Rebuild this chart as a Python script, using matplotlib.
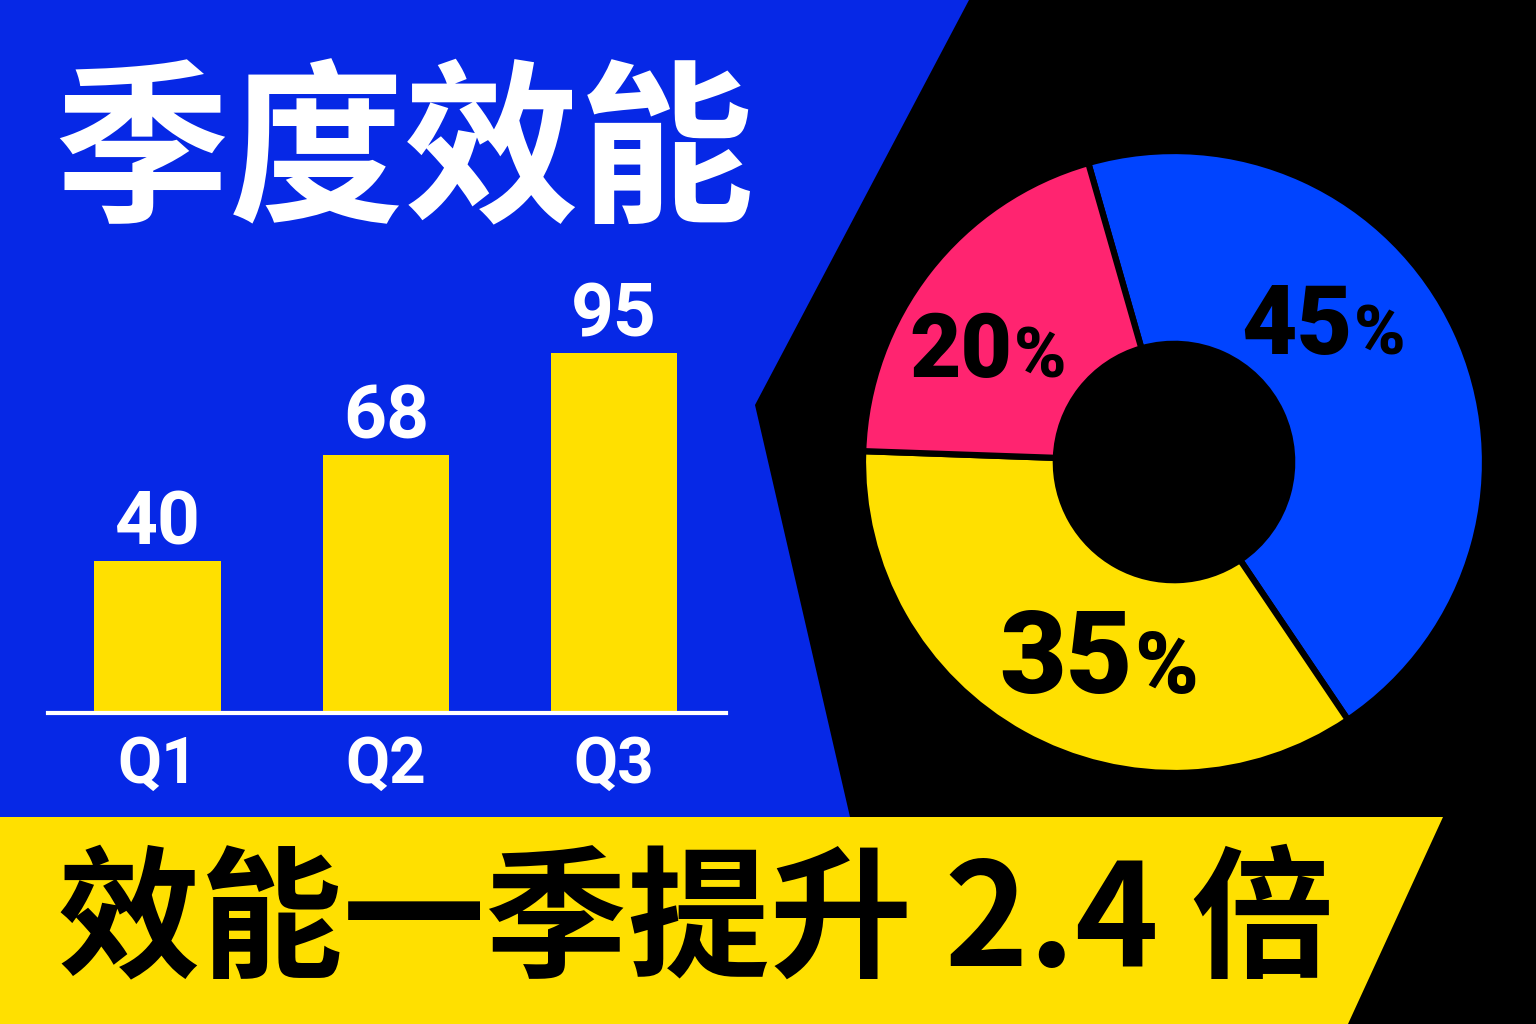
import matplotlib
matplotlib.use('Agg')
import matplotlib.pyplot as plt
from matplotlib.patches import Polygon

plt.rcParams['font.family'] = ['Noto Sans CJK SC', 'DejaVu Sans']

# data
quarters = ['Q1', 'Q2', 'Q3']
scores = [40, 68, 95]
share_labels = ['blue', 'yellow', 'red']
shares = [45, 35, 20]
title = '季度效能'
headline = '效能一季提升 2.4 倍'

# colours
bg_blue = '#0628E6'
yellow = '#FFE000'
pie_colors = ['#0044FF', '#FFE000', '#FF2470']

W, H = 1536, 1024
fig = plt.figure(figsize=(W / 100, H / 100), dpi=100)
fig.patch.set_facecolor(bg_blue)

# background shapes, pixel coords
bg = fig.add_axes([0, 0, 1, 1])
bg.set_xlim(0, W)
bg.set_ylim(H, 0)
bg.axis('off')
bg.add_patch(Polygon([(969, 0), (W, 0), (W, H), (850, H), (850, 817), (755, 405)],
                     closed=True, color='black', lw=0))
bg.add_patch(Polygon([(0, 817), (1443, 817), (1348, H), (0, H)],
                     closed=True, color=yellow, lw=0))

bg.text(54, 208, title, fontsize=126, color='white', fontweight='black',
        ha='left', va='baseline')
bg.text(58, 965, headline, fontsize=102.5, color='black', fontweight='black',
        ha='left', va='baseline')

# bar chart
ax = fig.add_axes([48 / W, (H - 713) / H, 678 / W, 453 / H])
ax.set_facecolor('none')
x = range(len(quarters))
bars = ax.bar(x, scores, width=0.553, color=yellow, zorder=1)
ax.set_xlim(-0.48, 2.49)
ax.set_ylim(0, 119.5)
for s in ['left', 'right', 'top']:
    ax.spines[s].set_visible(False)
ax.spines['bottom'].set_color('white')
ax.spines['bottom'].set_linewidth(3)
ax.set_yticks([])
ax.set_xticks(list(x), labels=quarters, fontsize=46, fontweight='bold',
              family=['Roboto', 'DejaVu Sans'])
ax.tick_params(axis='x', length=0, pad=16, labelcolor='white')
ax.bar_label(bars, labels=[str(v) for v in scores], padding=1, color='white',
             fontsize=54, fontweight='bold', family=['Roboto', 'DejaVu Sans'])

# donut
cx, cy, r = 1174, 462, 311
axp = fig.add_axes([(cx - r) / W, (H - cy - r) / H, 2 * r / W, 2 * r / H])
axp.set_facecolor('none')
wedges, _ = axp.pie(shares, colors=pie_colors, startangle=106, counterclock=False,
                    radius=1, wedgeprops=dict(width=0.62, edgecolor='black', linewidth=4.5))
axp.set_xlim(-1, 1)
axp.set_ylim(-1, 1)

# label anchors (digits end / % start, on baseline) and sizes
pct_anchor = [(0.573, 0.347), (-0.132, -0.742), (-0.521, 0.273)]
num_size = [69, 83, 64]
pct_size = [50, 62, 51]
for v, (px, py), ns, ps in zip(shares, pct_anchor, num_size, pct_size):
    axp.text(px, py, str(v), fontsize=ns, fontweight='black', color='black',
             ha='right', va='baseline', family=['Roboto', 'DejaVu Sans'])
    axp.text(px + 0.005, py, '%', fontsize=ps, fontweight='black', color='black',
             ha='left', va='baseline', family=['Roboto', 'DejaVu Sans'])

fig.savefig('out.png', dpi=100, facecolor=fig.get_facecolor())
